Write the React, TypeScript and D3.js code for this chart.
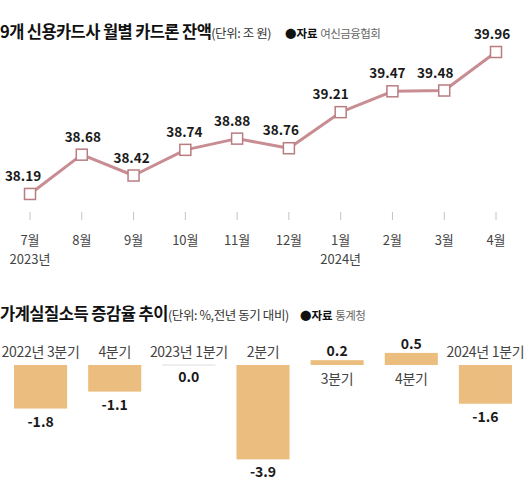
import React from "react";
import * as d3 from "d3";

const months = ["7월", "8월", "9월", "10월", "11월", "12월", "1월", "2월", "3월", "4월"];
const yearLabels = ["2023년", "", "", "", "", "", "2024년", "", "", ""];
const balances = [38.19, 38.68, 38.42, 38.74, 38.88, 38.76, 39.21, 39.47, 39.48, 39.96];
const labelShift = [-7, 1, -2, -1, -5, -8, -10, -5, -9, -4];

const quarters = ["2022년 3분기", "4분기", "2023년 1분기", "2분기", "3분기", "4분기 ", "2024년 1분기"];
const quarterLabels = ["2022년 3분기", "4분기", "2023년 1분기", "2분기", "3분기", "4분기", "2024년 1분기"];
const incomeChange = [-1.8, -1.1, 0.0, -3.9, 0.2, 0.5, -1.6];

const FONT = "'Noto Sans CJK KR', 'Noto Sans', sans-serif";
const LINE = "#c88d92";
const BAR = "#ebbe80";

export default function App() {
  const x = d3.scalePoint<string>().domain(months).range([30, 496]);
  const y = d3.scaleLinear().domain([38, 40]).range([209.2, 48.8]);
  const line = d3
    .line<number>()
    .x((_, i) => x(months[i]) as number)
    .y((d) => y(d));

  const xb = d3.scaleBand<string>().domain(quarters).range([3.5, 522.5]).paddingInner(0.284).paddingOuter(0.142);
  const yb = d3.scaleLinear().domain([-4, 1]).range([365 + 4 * 24.2, 365 - 24.2]);
  const y0 = yb(0);

  return (
    <svg width={530} height={494} style={{ position: "absolute", left: 0, top: 0, background: "#fff" }} fontFamily={FONT}>
      {/* Title 1 */}
      <text x={0} y={38} fill="#111">
        <tspan fontSize={16.5} fontWeight={700} letterSpacing={-0.6}>9개 신용카드사 월별 카드론 잔액</tspan>
        <tspan fontSize={12.5} fill="#333" letterSpacing={-0.4}>(단위: 조 원)</tspan>
      </text>
      <text x={285} y={38} fontSize={11.5} fill="#111">
        <tspan fontWeight={700}>●자료 </tspan>
        <tspan fill="#666" letterSpacing={-0.6}>여신금융협회</tspan>
      </text>

      {/* Line chart */}
      <path d={line(balances) ?? ""} fill="none" stroke={LINE} strokeWidth={3} strokeLinejoin="round" />
      {balances.map((v, i) => (
        <g key={i}>
          <rect x={(x(months[i]) as number) - 5.5} y={y(v) - 5.5} width={11} height={11} fill="#fff" stroke="#b97c81" strokeWidth={1.5} />
          <text x={(x(months[i]) as number) + labelShift[i]} y={y(v) - 13} textAnchor="middle" fontSize={13.5} fontWeight={700} fill="#1a1a1a">
            {v.toFixed(2)}
          </text>
        </g>
      ))}
      {months.map((m, i) => (
        <g key={m + i}>
          <line x1={x(m) as number} x2={x(m) as number} y1={212} y2={220} stroke="#c4c4c4" strokeWidth={1} />
          <text x={x(m) as number} y={244.5} textAnchor="middle" fontSize={13} fill="#444">{m}</text>
          {yearLabels[i] && (
            <text x={x(m) as number} y={264} textAnchor="middle" fontSize={13} fill="#444">{yearLabels[i]}</text>
          )}
        </g>
      ))}

      {/* Title 2 */}
      <text x={0} y={320} fill="#111">
        <tspan fontSize={16.5} fontWeight={700} letterSpacing={-0.5}>가계실질소득 증감율 추이</tspan>
        <tspan fontSize={12.5} fill="#333" letterSpacing={-0.4}>(단위: %,전년 동기 대비)</tspan>
      </text>
      <text x={300} y={320} fontSize={11.5} fill="#111">
        <tspan fontWeight={700}>●자료 </tspan>
        <tspan fill="#666" letterSpacing={-0.6}>통계청</tspan>
      </text>

      {/* Bar chart */}
      {incomeChange.map((v, i) => {
        const q = quarters[i];
        const bx = xb(q) as number;
        const bw = xb.bandwidth();
        const cx = bx + bw / 2;
        const top = Math.min(yb(v), y0);
        const h = Math.abs(yb(v) - y0);
        const neg = v <= 0;
        return (
          <g key={q}>
            {v === 0 ? (
              <line x1={bx} x2={bx + bw} y1={y0} y2={y0} stroke="#dcdcdc" strokeWidth={1} />
            ) : (
              <rect x={bx} y={top} width={bw} height={h} fill={BAR} />
            )}
            <text x={cx} y={neg ? y0 - 8 : y0 + 19} textAnchor="middle" fontSize={14} fill="#444" letterSpacing={-0.3}>
              {quarterLabels[i]}
            </text>
            <text
              x={cx}
              y={neg ? (v === 0 ? y0 + 17 : yb(v) + 18) : yb(v) - 4}
              textAnchor="middle"
              fontSize={14}
              fontWeight={700}
              fill="#1a1a1a"
            >
              {v.toFixed(1)}
            </text>
          </g>
        );
      })}
    </svg>
  );
}
